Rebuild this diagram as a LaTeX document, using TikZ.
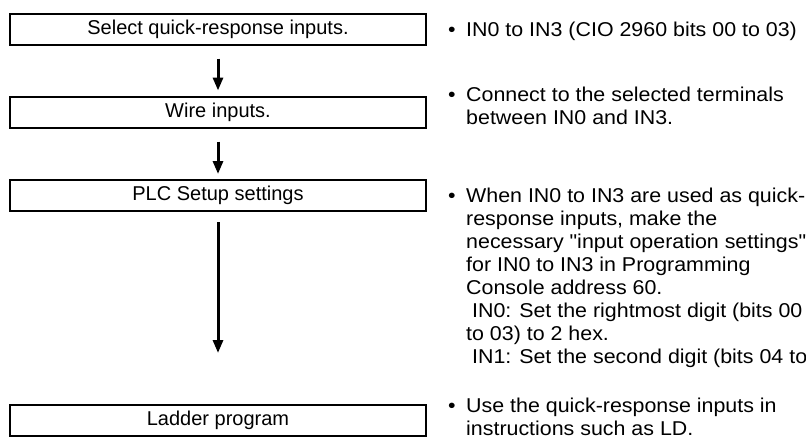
\documentclass[tikz,border=0pt]{standalone}
\usepackage{fontspec}
\usepackage{graphicx}
\setmainfont{Liberation Sans}[Ligatures=TeXOff]
\usetikzlibrary{arrows.meta}
\newcommand\notetext[1]{\scalebox{1.07}[1]{\parbox[t]{380pt}{\raggedright\leavevmode\llap{\textbullet\hspace{10pt}}#1}}}
\begin{document}
\begin{tikzpicture}[x=1pt,y=-1pt,
  stepbox/.style={draw,line width=2pt,minimum width=416pt,minimum height=31pt,inner sep=0pt,
    font=\fontsize{20}{23}\selectfont},
  flow/.style={line width=3pt,-{Triangle[length=13pt,width=10pt]}},
  note/.style={anchor=base west,inner sep=0pt,font=\fontsize{20}{23}\selectfont}]
\useasboundingbox (0,0) rectangle (806,437);
\clip (0,0) rectangle (806,437);
\node[stepbox] (b1) at (218,29) {Select quick-response inputs.};
\node[stepbox] (b2) at (218,112) {Wire inputs.};
\node[stepbox] (b3) at (218,195.5) {PLC Setup settings};
\node[stepbox] (b4) at (218,420) {Ladder program};
\coordinate (end3) at (218,353);
\draw[flow] ([yshift=-13pt]b1.south) -- ([yshift=5pt]b2.north);
\draw[flow] ([yshift=-13pt]b2.south) -- ([yshift=5pt]b3.north);
\draw[flow] ([yshift=-10pt]b3.south) -- (end3);
\node[note] (n1) at (466,36) {\notetext{IN0 to IN3 (CIO 2960 bits 00 to 03)}};
\node[note] (n2) at (466,101) {\notetext{Connect to the selected terminals\\between IN0 and IN3.}};
\node[note] (n3) at (466,202) {\notetext{When IN0 to IN3 are used as quick-\\response inputs, make the\\necessary "input operation settings"\\for IN0 to IN3 in Programming\\Console address 60.\\\ IN0: Set the rightmost digit (bits 00\\to 03) to 2 hex.\\\ IN1: Set the second digit (bits 04 to}};
\node[note] (n4) at (466,412) {\notetext{Use the quick-response inputs in\\instructions such as LD.}};
\end{tikzpicture}
\end{document}
